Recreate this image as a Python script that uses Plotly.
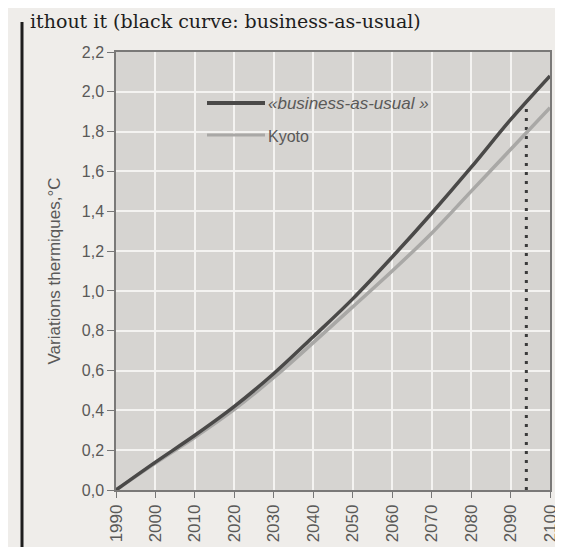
import plotly.graph_objects as go

years = [1990, 2000, 2010, 2020, 2030, 2040, 2050, 2060, 2070, 2080, 2090, 2100]
bau = [0.0, 0.14, 0.275, 0.42, 0.585, 0.77, 0.96, 1.17, 1.39, 1.62, 1.86, 2.08]
kyoto = [0.0, 0.135, 0.265, 0.405, 0.565, 0.74, 0.92, 1.10, 1.29, 1.50, 1.71, 1.92]
marker_year = 2094
marker_top = 1.93
series_names = ["\u00abbusiness-as-usual \u00bb", "Kyoto"]
y_title = "Variations thermiques,\u00b0C"
page_text = "ithout it (black curve: business-as-usual)"

W, H = 563, 547
L, R, T, B = 108, 21, 44, 65
pw, ph = W - L - R, H - T - B

def px_x(p):
    return (p - L) / pw

def px_y(p):
    return 1 - (p - T) / ph

fig = go.Figure()
fig.add_trace(go.Scatter(x=[marker_year, marker_year], y=[0, marker_top], mode="lines",
                         line=dict(color="#3a3a3a", width=3, dash="3px,6px"), showlegend=False,
                         hoverinfo="skip"))
fig.add_trace(go.Scatter(x=years, y=kyoto, mode="lines", name=series_names[1],
                         line=dict(color="#a9a8a6", width=3.5, shape="spline"), showlegend=False))
fig.add_trace(go.Scatter(x=years, y=bau, mode="lines", name=series_names[0],
                         line=dict(color="#4a4948", width=3.5, shape="spline"), showlegend=False))

font_c = "#5a5958"
shapes = [
    # legend samples
    dict(type="line", xref="paper", yref="paper", x0=px_x(199), x1=px_x(257), y0=px_y(95), y1=px_y(95),
         line=dict(color="#4a4948", width=4)),
    dict(type="line", xref="paper", yref="paper", x0=px_x(199), x1=px_x(257), y0=px_y(127), y1=px_y(127),
         line=dict(color="#a9a8a6", width=3)),
    # page border line of the scan
    dict(type="line", xref="paper", yref="paper", x0=px_x(14), x1=px_x(14), y0=px_y(14), y1=px_y(H + 2),
         line=dict(color="#1e1e1e", width=3)),
]
annotations = [
    dict(xref="paper", yref="paper", x=px_x(258), y=px_y(95), text="<i>" + series_names[0] + "</i>",
         showarrow=False, xanchor="left", yanchor="middle",
         font=dict(family="Liberation Sans", size=17, color=font_c)),
    dict(xref="paper", yref="paper", x=px_x(258), y=px_y(128), text=series_names[1],
         showarrow=False, xanchor="left", yanchor="middle",
         font=dict(family="Liberation Sans", size=16, color=font_c)),
    dict(xref="paper", yref="paper", x=px_x(20), y=px_y(0), text=page_text,
         showarrow=False, xanchor="left", yanchor="top",
         font=dict(family="DejaVu Serif", size=19, color="#1e1e1e")),
]

fig.update_layout(
    width=W, height=H,
    margin=dict(l=L, r=R, t=T, b=B, pad=0),
    paper_bgcolor="#efedea",
    plot_bgcolor="#d6d4d1",
    separators=", ",
    font=dict(family="Liberation Sans", size=16, color=font_c),
    shapes=shapes,
    annotations=annotations,
    xaxis=dict(range=[1990, 2100], tickvals=years, tickangle=-90,
               ticks="outside", ticklen=6, tickcolor="#777",
               showgrid=True, gridcolor="#f4f3f1", gridwidth=2,
               showline=True, linecolor="#7a7978", linewidth=1.5, mirror=True,
               zeroline=False, tickfont=dict(size=17, color=font_c)),
    yaxis=dict(range=[0, 2.2], dtick=0.2, tick0=0, tickformat=".1f",
               ticks="outside", ticklen=7, tickcolor="#777",
               showgrid=True, gridcolor="#f4f3f1", gridwidth=2,
               showline=True, linecolor="#7a7978", linewidth=1.5, mirror=True,
               zeroline=False, tickfont=dict(size=16, color=font_c),
               title=dict(text=y_title, standoff=17, font=dict(size=17, color=font_c))),
)

fig.write_html("out.html")
